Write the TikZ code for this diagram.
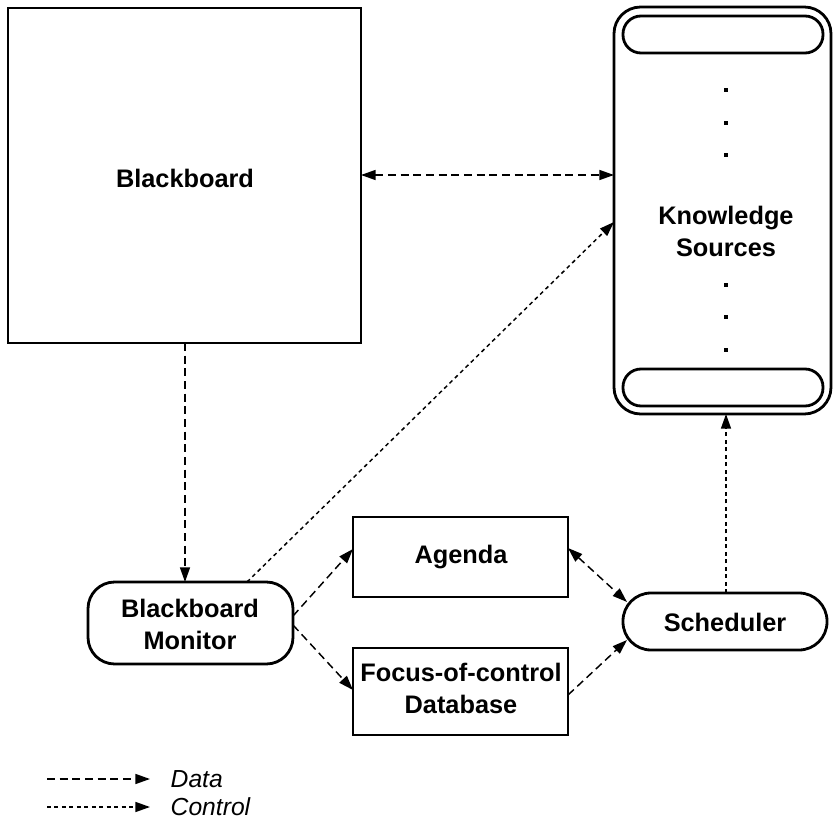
\documentclass[tikz,border=0pt]{standalone}
\usepackage{fontspec}
\setmainfont{Liberation Sans}
\usetikzlibrary{arrows.meta}
\begin{document}
\begin{tikzpicture}[x=0.75pt,y=-0.75pt,
  box/.style={draw,line width=2.1pt},
  lbl/.style={font=\fontsize{19}{24}\selectfont\bfseries,align=center},
  data/.style={line width=1.1pt,dash pattern=on 6pt off 3.5pt,-{Triangle[length=11pt,width=7.5pt]}},
  datab/.style={data,{Triangle[length=11pt,width=7.5pt]}-{Triangle[length=11pt,width=7.5pt]}},
  ctrl/.style={line width=1.1pt,dash pattern=on 3pt off 2.6pt,-{Triangle[length=11pt,width=7.5pt]}}]
\useasboundingbox (0,0) rectangle (833,824);
% Blackboard
\draw[box] (8,8) rectangle (361,343);
\node[lbl] (bbt) at (185,178) {Blackboard};
\coordinate (bbR) at (361,175);
\coordinate (bbB) at (185,343);
% Knowledge sources
\draw[box,rounded corners=20pt] (614,7) rectangle (831,414);
\draw[box,rounded corners=13.5pt] (623,16) rectangle (823,53);
\draw[box,rounded corners=13.5pt] (623,369) rectangle (823,406);
\node[lbl] (ks) at (726,231) {Knowledge\\Sources};
\foreach \y in {90,123,155,285,317,350} \fill (724,\y-2) rectangle (728,\y+2);
\coordinate (ksL) at (614,175);
\coordinate (ksL2) at (614,222);
\coordinate (ksB) at (726,414);
% Blackboard monitor
\draw[box,rounded corners=20pt] (88,582) rectangle (293,664);
\node[lbl] (bm) at (190,624) {Blackboard\\Monitor};
\coordinate (bmT) at (185,582);
\coordinate (bmT2) at (247,582);
\coordinate (bmR1) at (293,616);
\coordinate (bmR2) at (293,625);
% Agenda
\draw[box] (353,517) rectangle (568,597);
\node[lbl] (ag) at (461,557) {Agenda};
\coordinate (agL) at (353,549);
\coordinate (agR) at (568,548);
% Focus
\draw[box] (353,648) rectangle (568,735);
\node[lbl] (fc) at (461,688) {Focus-of-control\\Database};
\coordinate (fcL) at (353,690);
\coordinate (fcR) at (568,695);
% Scheduler
\draw[box,rounded corners=21pt] (623,593) rectangle (827,650);
\node[lbl] (sc) at (725,622) {Scheduler};
\coordinate (scT) at (726,593);
\coordinate (scL1) at (627,602);
\coordinate (scL2) at (627,640);
% connectors
\draw[datab] (bbR) -- (ksL);
\draw[data] (bbB) -- (bmT);
\draw[ctrl] (bmT2) -- (ksL2);
\draw[data] (bmR1) -- (agL);
\draw[data] (bmR2) -- (fcL);
\draw[datab] (agR) -- (scL1);
\draw[data] (fcR) -- (scL2);
\draw[ctrl] (scT) -- (ksB);
% legend
\coordinate (l1a) at (47,779); \coordinate (l1b) at (150,779);
\coordinate (l2a) at (47,807); \coordinate (l2b) at (150,807);
\draw[data] (l1a) -- (l1b);
\draw[ctrl] (l2a) -- (l2b);
\node[font=\fontsize{18.5}{24}\selectfont\itshape,anchor=west] (ld) at (166,779) {Data};
\node[font=\fontsize{18.5}{24}\selectfont\itshape,anchor=west] (lc) at (166,807) {Control};
\end{tikzpicture}
\end{document}
